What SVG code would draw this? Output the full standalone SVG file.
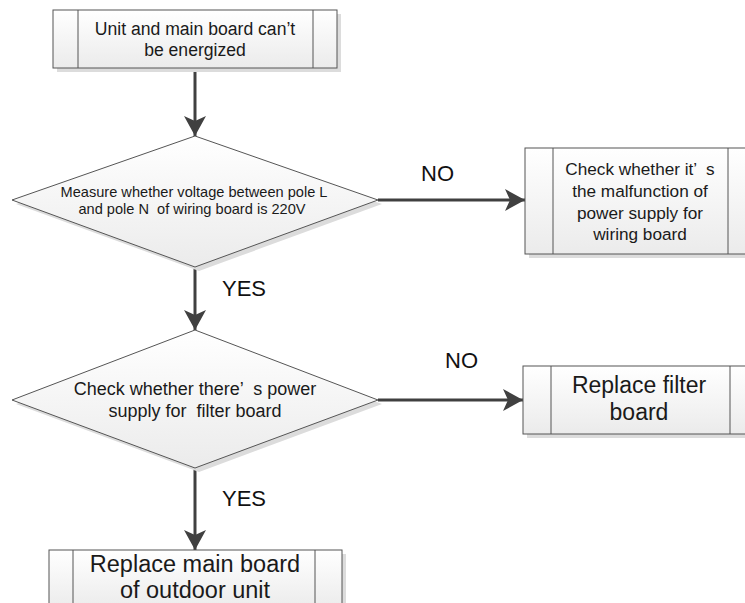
<svg xmlns="http://www.w3.org/2000/svg" width="745" height="603" viewBox="0 0 745 603">
<style>
  .shape { fill: url(#g); stroke: #555555; stroke-width: 1; }
  .shadow { fill: #dcdcdc; }
  .inner { stroke: #555555; stroke-width: 1; fill: none; }
  .t { font-family: "Liberation Sans", Arial, sans-serif; fill: #1a1a1a; text-anchor: middle; white-space: pre; }
  .lbl { font-family: "Liberation Sans", Arial, sans-serif; fill: #111111; font-size: 22px; }
  .conn { stroke: #404040; stroke-width: 3; fill: none; marker-end: url(#arrow); }
</style>
<defs>
  <linearGradient id="g" x1="0" y1="0" x2="0" y2="1">
    <stop offset="0" stop-color="#ffffff"/>
    <stop offset="1" stop-color="#ebebeb"/>
  </linearGradient>
  <marker id="arrow" markerUnits="userSpaceOnUse" markerWidth="22" markerHeight="24" refX="20" refY="11" orient="auto">
    <path d="M0,0 L20,11 L0,22 L5,11 Z" fill="#404040"/>
  </marker>
</defs>
<rect width="745" height="603" fill="#ffffff"/>

<g id="connectors">
  <line class="conn" x1="195" y1="68" x2="195" y2="136"/>
  <line class="conn" x1="378" y1="200" x2="525" y2="200"/>
  <line class="conn" x1="195" y1="267" x2="195" y2="330"/>
  <line class="conn" x1="378" y1="400" x2="523" y2="400"/>
  <line class="conn" x1="195" y1="468" x2="195" y2="550"/>
  <text class="lbl" x="421" y="181">NO</text>
  <text class="lbl" x="222" y="296">YES</text>
  <text class="lbl" x="445" y="368">NO</text>
  <text class="lbl" x="222" y="506">YES</text>
</g>

<g id="start">
  <rect class="shadow" x="57" y="14" width="284" height="58"/>
  <rect class="shape" x="53" y="10" width="284" height="58"/>
  <line class="inner" x1="78" y1="10" x2="78" y2="68"/>
  <line class="inner" x1="313" y1="10" x2="313" y2="68"/>
  <text class="t" x="195" y="35" font-size="17.6">Unit and main board can’t</text>
  <text class="t" x="195" y="56" font-size="17.6">be energized</text>
</g>

<g id="decision1">
  <polygon class="shadow" points="199,140 382,204 199,271 16,204"/>
  <polygon class="shape" points="195,136 378,200 195,267 12,200"/>
  <text class="t" x="194" y="197" font-size="14.6">Measure whether voltage between pole L</text>
  <text class="t" x="192" y="214" font-size="14.6">and pole N  of wiring board is 220V</text>
</g>

<g id="check-power">
  <rect class="shadow" x="529" y="152" width="231" height="106"/>
  <rect class="shape" x="525" y="148" width="231" height="106"/>
  <line class="inner" x1="553" y1="148" x2="553" y2="254"/>
  <line class="inner" x1="728" y1="148" x2="728" y2="254"/>
  <text class="t" x="640" y="175" font-size="17.2">Check whether it’  s</text>
  <text class="t" x="640" y="197" font-size="17.2">the malfunction of</text>
  <text class="t" x="640" y="219" font-size="17.2">power supply for</text>
  <text class="t" x="640" y="240" font-size="17.2">wiring board</text>
</g>

<g id="decision2">
  <polygon class="shadow" points="199,334 382,404 199,472 16,404"/>
  <polygon class="shape" points="195,330 378,400 195,468 12,400"/>
  <text class="t" x="195" y="395" font-size="18">Check whether there’  s power</text>
  <text class="t" x="195" y="417" font-size="18">supply for  filter board</text>
</g>

<g id="replace-filter">
  <rect class="shadow" x="527" y="370" width="235" height="68"/>
  <rect class="shape" x="523" y="366" width="235" height="68"/>
  <line class="inner" x1="551" y1="366" x2="551" y2="434"/>
  <line class="inner" x1="730" y1="366" x2="730" y2="434"/>
  <text class="t" x="639" y="393" font-size="23">Replace filter</text>
  <text class="t" x="639" y="420" font-size="23">board</text>
</g>

<g id="replace-main">
  <rect class="shadow" x="53" y="554" width="293" height="60"/>
  <rect class="shape" x="49" y="550" width="293" height="60"/>
  <line class="inner" x1="73" y1="550" x2="73" y2="610"/>
  <line class="inner" x1="315" y1="550" x2="315" y2="610"/>
  <text class="t" x="195" y="572" font-size="23.5">Replace main board</text>
  <text class="t" x="195" y="598" font-size="23.5">of outdoor unit</text>
</g>
</svg>
